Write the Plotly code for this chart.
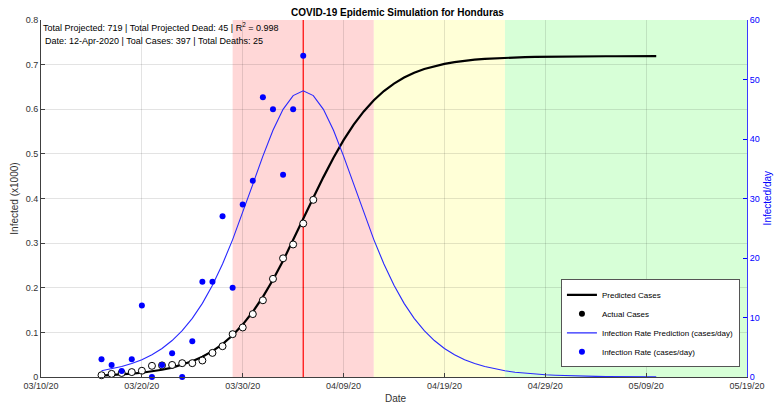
import datetime as dt
import plotly.graph_objects as go

# ---------------- data ----------------
start_day = "2020-03-16"

# actual cumulative cases (daily, from 2020-03-16)
actual_cases = [4, 7, 9, 11, 14, 25, 26, 27, 31, 31, 37, 54, 69, 96, 111,
                141, 172, 220, 266, 297, 344, 397]

# observed infection rate, cases/day (daily, from 2020-03-16)
actual_rate = [3, 2, 1, 3, 12, 0, 2, 4, 0, 6, 16, 16, 27, 15, 29, 33, 47,
               45, 34, 45, 54]

# predicted cumulative cases, thousands (daily, from 2020-03-16)
predicted_cases = [0.0033, 0.0043, 0.0057, 0.0074, 0.0096, 0.0125, 0.0162,
                   0.0210, 0.0272, 0.0351, 0.0452, 0.0579, 0.0738, 0.0935,
                   0.1174, 0.1461, 0.1796, 0.2179, 0.2604, 0.3062, 0.3538,
                   0.4015, 0.4479, 0.4913, 0.5307, 0.5654, 0.5952, 0.6202,
                   0.6408, 0.6576, 0.6710, 0.6817, 0.6901, 0.6966, 0.7017,
                   0.7057, 0.7088, 0.7112, 0.7130, 0.7144, 0.7155, 0.7163,
                   0.7169, 0.7174, 0.7178, 0.7181, 0.7183, 0.7185, 0.7186,
                   0.7187, 0.7188, 0.7188, 0.7189, 0.7189, 0.7189, 0.7189]

# predicted infection rate, cases/day (daily, from 2020-03-16)
predicted_rate = [1.05, 1.36, 1.75, 2.26, 2.91, 3.74, 4.80, 6.13, 7.79, 9.86,
                  12.38, 15.42, 18.99, 23.09, 27.61, 32.38, 37.12, 41.47,
                  44.99, 47.30, 48.10, 47.30, 44.99, 41.47, 37.12, 32.38,
                  27.61, 23.09, 18.99, 15.42, 12.38, 9.86, 7.79, 6.13, 4.80,
                  3.74, 2.91, 2.26, 1.75, 1.36, 1.05, 0.81, 0.63, 0.48, 0.37,
                  0.29, 0.22, 0.17, 0.13, 0.10, 0.08, 0.06, 0.05, 0.04, 0.03,
                  0.02]

# phase shading and peak marker
phase_bounds = ["2020-03-29", "2020-04-12", "2020-04-25", "2020-05-19"]
phase_colors = ["#FFD7D7", "#FFFFD7", "#D7FFD7"]
peak_day = "2020-04-05"

x_tick_dates = ["2020-03-10", "2020-03-20", "2020-03-30", "2020-04-09",
                "2020-04-19", "2020-04-29", "2020-05-09", "2020-05-19"]

info_line1 = "Total Projected: 719 | Total Projected Dead: 45 | R<sup>2</sup> = 0.998"
info_line2 = "Date: 12-Apr-2020 | Toal Cases: 397 | Total Deaths: 25"

# ---------------- build ----------------
d0 = dt.date.fromisoformat(start_day)
def days(n):
    return [d0 + dt.timedelta(days=i) for i in range(n)]

FONT = "Liberation Sans, Arial, sans-serif"
AX = "#404040"

fig = go.Figure()

fig.add_trace(go.Scatter(
    x=days(len(predicted_cases)), y=predicted_cases, mode="lines",
    line=dict(color="black", width=2.2), name="Predicted Cases",
    cliponaxis=False))
fig.add_trace(go.Scatter(
    x=[None], y=[None], mode="markers",
    marker=dict(color="black", size=6), name="Actual Cases"))
fig.add_trace(go.Scatter(
    x=days(len(actual_cases)), y=[c / 1000 for c in actual_cases],
    mode="markers", showlegend=False, cliponaxis=False,
    marker=dict(color="white", size=7, line=dict(color="black", width=1))))
fig.add_trace(go.Scatter(
    x=days(len(predicted_rate)), y=predicted_rate, mode="lines", yaxis="y2",
    line=dict(color="#2828FF", width=1.1),
    name="Infection Rate Prediction (cases/day)", cliponaxis=False))
fig.add_trace(go.Scatter(
    x=days(len(actual_rate)), y=actual_rate, mode="markers", yaxis="y2",
    marker=dict(color="#0000FF", size=6), name="Infection Rate (cases/day)",
    cliponaxis=False))

shapes = []
for i, col in enumerate(phase_colors):
    shapes.append(dict(type="rect", xref="x", yref="paper",
                       x0=phase_bounds[i], x1=phase_bounds[i + 1], y0=0, y1=1,
                       fillcolor=col, line=dict(width=0), layer="below"))
shapes.append(dict(type="line", xref="x", yref="paper", x0=peak_day,
                   x1=peak_day, y0=0, y1=1,
                   line=dict(color="#FF0000", width=1.2), layer="below"))

fig.update_layout(
    width=777, height=407,
    margin=dict(l=41, r=26, t=20, b=30),
    paper_bgcolor="white", plot_bgcolor="white",
    font=dict(family=FONT, size=9, color="#333333"),
    title=dict(text="<b>COVID-19 Epidemic Simulation for Honduras</b>",
               x=0.505, xref="paper", xanchor="center",
               y=1 - 12 / 407, yref="container", yanchor="middle",
               font=dict(size=10, color="black", family=FONT)),
    xaxis=dict(type="date", range=["2020-03-10", "2020-05-19"],
               tickvals=x_tick_dates, tickformat="%m/%d/%y",
               ticks="inside", ticklen=4, tickcolor=AX,
               showgrid=True, gridcolor="rgba(0,0,0,0.11)", gridwidth=1,
               showline=True, linecolor=AX, linewidth=1,
               zeroline=False, tickfont=dict(size=9, color="#333333")),
    yaxis=dict(range=[0, 0.8], dtick=0.1, ticks="inside", ticklen=4,
               tickcolor=AX, showgrid=True, gridcolor="rgba(0,0,0,0.11)",
               showline=True, linecolor=AX, linewidth=1, zeroline=False,
               tickfont=dict(size=9, color="#333333")),
    yaxis2=dict(range=[0, 60], dtick=10, overlaying="y", side="right",
                ticks="inside", ticklen=4, tickcolor="#0000FF",
                showgrid=False, showline=True, linecolor="#3A3AFF",
                linewidth=1, zeroline=False,
                tickfont=dict(size=9, color="#0000FF")),
    shapes=shapes,
    legend=dict(x=0.990, xanchor="right", y=0.027, yanchor="bottom",
                bgcolor="white", bordercolor="#555555", borderwidth=1,
                font=dict(size=8, color="black", family=FONT),
                tracegroupgap=0),
    showlegend=True,
)

annotations = [
    dict(text=info_line1, xref="paper", yref="paper", x=0.0, y=0.981,
         xanchor="left", yanchor="middle", showarrow=False,
         font=dict(size=9, color="black")),
    dict(text=info_line2, xref="paper", yref="paper", x=0.0035, y=0.942,
         xanchor="left", yanchor="middle", showarrow=False,
         font=dict(size=9, color="black")),
    dict(text="Date", xref="paper", yref="paper", x=0.503, y=-0.059,
         xanchor="center", yanchor="middle", showarrow=False,
         font=dict(size=10, color="#333333")),
    dict(text="Infected (x1000)", xref="paper", yref="paper", x=-0.038,
         y=0.5, xanchor="center", yanchor="middle", textangle=-90,
         showarrow=False, font=dict(size=10, color="#333333")),
    dict(text="Infected/day", xref="paper", yref="paper", x=1.0296,
         y=0.5, xanchor="center", yanchor="middle", textangle=-90,
         showarrow=False, font=dict(size=10, color="#0000FF")),
]
fig.update_layout(annotations=annotations)

fig.write_html(
    "out.html",
    config={"displayModeBar": False},
    post_script="document.body.style.margin='0';"
                "document.body.style.overflow='hidden';",
)
